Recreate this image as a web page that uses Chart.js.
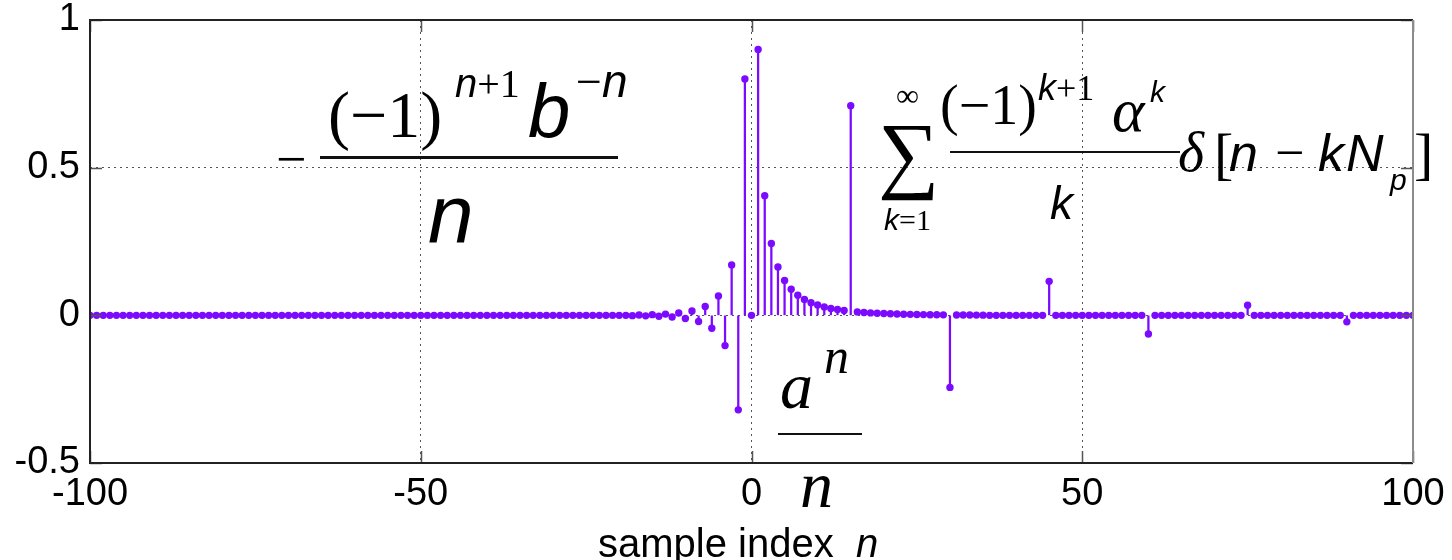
<!DOCTYPE html>
<html>
<head>
<meta charset="utf-8">
<script src="https://cdn.jsdelivr.net/npm/chart.js@4.4.1/dist/chart.umd.min.js"></script>
<style>
  html, body { margin: 0; padding: 0; background: #fff; }
  #wrap { position: relative; width: 1452px; height: 560px; overflow: hidden; }
  #wrap canvas { position: absolute; left: 0; top: 0; }
  .m { position: absolute; white-space: nowrap; line-height: 1; color: #000; }
  .serif { font-family: "Liberation Serif", "Times New Roman", serif; font-style: normal; }
  .sans { font-family: "Liberation Sans", Arial, sans-serif; font-style: normal; }
  .it { font-style: italic; }
  .rule { position: absolute; background: #111; }
</style>
</head>
<body>
<div id="wrap">
  <canvas id="stemChart" width="1452" height="560"></canvas>
  <div id="notes"></div>
</div>
<script>
// sample index runs from -100 to 100, one value per sample
const firstSample = -100;
const sampleValues = [
  0, 0, 0, 0, 0, 0, 0, 0, 0, 0,
  0, 0, 0, 0, 0, 0, 0, 0, 0, 0,
  0, 0, 0, 0, 0, 0, 0, 0, 0, 0,
  0, 0, 0, 0, 0, 0, 0, 0, 0, 0,
  0, 0, 0, 0, 0, 0, 0, 0, 0, 0,
  0, 0, 0, 0, 0, 0, 0, 0, 0, 0,
  0, 0, 0, 0, 0, 0, 0, 0, 0, 0,
  0, 0, 0, 0, 0, 0, 0, 0, 0, 0,
  0, 0, -0.001, 0.0013, -0.0018, 0.0023, -0.0031, 0.0042, -0.0057, 0.0078,
  -0.0107, 0.0149, -0.021, 0.03, -0.0437, 0.0655, -0.1024, 0.1707, -0.32, 0.8,
  0,
  0.9, 0.405, 0.243, 0.164, 0.118, 0.0886, 0.0683, 0.0538, 0.043, 0.0349,
  0.0285, 0.0235, 0.0196, 0.0163, 0.71, 0.0116, 0.0098, 0.0083, 0.0071, 0.0061,
  0.0052, 0.0045, 0.0039, 0.0033, 0.0029, 0.0025, 0.0022, 0.0019, 0.0016, -0.244,
  0.0012, 0.0011, 0.0009, 0.0008, 0.0007, 0, 0, 0, 0, 0,
  0, 0, 0, 0, 0.115, 0, 0, 0, 0, 0,
  0, 0, 0, 0, 0, 0, 0, 0, 0, -0.063,
  0, 0, 0, 0, 0, 0, 0, 0, 0, 0,
  0, 0, 0, 0, 0.034, 0, 0, 0, 0, 0,
  0, 0, 0, 0, 0, 0, 0, 0, 0, -0.022,
  0, 0, 0, 0, 0, 0, 0, 0, 0, 0
];
const xTicks = [-100, -50, 0, 50, 100];
const yTicks = [-0.5, 0, 0.5, 1];

const stemColor = "rgb(124, 10, 255)";
const tickFont = { family: "'Liberation Sans', Arial, sans-serif", size: 38, lineHeight: 1 };

const points = sampleValues.map((v, i) => ({ x: firstSample + i, y: v }));

// MATLAB style box with inward ticks on all four sides
const framePlugin = {
  id: "frame",
  afterDraw(chart) {
    const { ctx, chartArea: a, scales } = chart;
    ctx.save();
    ctx.strokeStyle = "#555";
    ctx.lineWidth = 1.5;
    ctx.beginPath();
    xTicks.forEach((v) => {
      const px = Math.round(scales.x.getPixelForValue(v)) + 0.5;
      ctx.moveTo(px, a.bottom);
      ctx.lineTo(px, a.bottom - 12);
      ctx.moveTo(px, a.top);
      ctx.lineTo(px, a.top + 12);
    });
    yTicks.forEach((v) => {
      const py = Math.round(scales.y.getPixelForValue(v)) + 0.5;
      ctx.moveTo(a.left, py);
      ctx.lineTo(a.left + 12, py);
      ctx.moveTo(a.right, py);
      ctx.lineTo(a.right - 12, py);
    });
    ctx.stroke();

    ctx.lineWidth = 2;
    ctx.strokeStyle = "#222";
    ctx.beginPath();
    ctx.moveTo(a.right, a.top);
    ctx.lineTo(a.left, a.top);
    ctx.lineTo(a.left, a.bottom);
    ctx.lineTo(a.right, a.bottom);
    ctx.stroke();
    ctx.strokeStyle = "#8c8c8c";
    ctx.beginPath();
    ctx.moveTo(a.right, a.top);
    ctx.lineTo(a.right, a.bottom);
    ctx.stroke();
    ctx.restore();
  }
};

new Chart(document.getElementById("stemChart"), {
  type: "bar",
  data: {
    datasets: [
      {
        type: "scatter",
        data: points,
        pointRadius: 3.7,
        pointHoverRadius: 3.7,
        pointBackgroundColor: stemColor,
        pointBorderWidth: 0,
        showLine: false,
        order: 0
      },
      {
        type: "bar",
        data: points,
        backgroundColor: stemColor,
        borderWidth: 0,
        barThickness: 1.6,
        order: 1
      }
    ]
  },
  options: {
    responsive: false,
    devicePixelRatio: 1,
    animation: false,
    layout: { padding: { top: 20, right: 39, left: 0, bottom: 0 } },
    plugins: { legend: { display: false }, tooltip: { enabled: false } },
    scales: {
      x: {
        type: "linear",
        min: -100,
        max: 100,
        offset: false,
        afterBuildTicks: (scale) => { scale.ticks = xTicks.map((v) => ({ value: v })); },
        afterFit: (scale) => { scale.height = 97; },
        ticks: {
          font: tickFont,
          color: "#000",
          padding: 0,
          maxRotation: 0,
          autoSkip: false,
          callback: (v) => String(v)
        },
        grid: {
          offset: false, color: "#555", lineWidth: 1,
          drawTicks: true, tickLength: 13, tickColor: "rgba(0,0,0,0)"
        },
        border: { display: false, dash: [2, 4] }
      },
      y: {
        type: "linear",
        min: -0.5,
        max: 1,
        afterBuildTicks: (scale) => { scale.ticks = yTicks.map((v) => ({ value: v })); },
        afterFit: (scale) => { scale.width = 90; },
        ticks: {
          font: tickFont,
          color: "#000",
          padding: 0,
          callback: (v) => String(v)
        },
        grid: {
          color: "#555", lineWidth: 1,
          drawTicks: true, tickLength: 10, tickColor: "rgba(0,0,0,0)"
        },
        border: { display: false, dash: [2, 4] }
      }
    }
  },
  plugins: [framePlugin]
});

// annotations and axis label as html text laid over the canvas
const notes = document.getElementById("notes");
const put = (html, x, base, size, cls) => {
  const el = document.createElement("span");
  el.className = "m " + cls;
  el.style.fontSize = size + "px";
  el.style.left = x + "px";
  el.style.top = (base - 0.84 * size) + "px";
  el.innerHTML = html;
  notes.appendChild(el);
};
const rule = (x, y, w, h) => {
  const el = document.createElement("div");
  el.className = "rule";
  el.style.left = x + "px";
  el.style.top = y + "px";
  el.style.width = w + "px";
  el.style.height = h + "px";
  notes.appendChild(el);
};

// - (-1)^(n+1) b^(-n) / n
put("&minus;", 276, 177, 54, "serif");
put("(&minus;1)", 328, 137, 66, "serif");
put('<span class="sans it">n</span>+1', 455, 97, 40, "serif");
put("b", 528, 137, 76, "sans it");
put('&minus;<span class="sans it">n</span>', 576, 97, 46, "serif");
rule(320, 156, 298, 3);
put("n", 428, 242, 82, "sans it");

// sum_k (-1)^(k+1) alpha^k / k  delta[n - kNp]
put("&sum;", 878, 182, 86, "serif");
put("&infin;", 896, 106, 32, "serif");
put('<span class="sans it">k</span>=1', 884, 230, 30, "serif");
put("(&minus;1)", 940, 124, 56, "serif");
put('<span class="sans it">k</span>+1', 1038, 100, 36, "serif");
put("&alpha;", 1112, 131, 62, "serif it");
put("k", 1150, 102, 30, "sans it");
rule(950, 151, 230, 2);
put("k", 1050, 219, 46, "sans it");
put("&delta;", 1178, 171, 56, "serif it");
put("[", 1214, 174, 58, "serif");
put("n", 1229, 171, 52, "sans it");
put("&minus;", 1275, 171, 52, "serif");
put("k", 1318, 171, 52, "sans it");
put("N", 1346, 171, 52, "sans it");
put("p", 1390, 190, 30, "sans it");
put("]", 1414, 174, 58, "serif");

// a^n / n
put("a", 780, 408, 66, "serif it");
put("n", 824, 373, 50, "serif it");
rule(778, 433, 84, 2);
put("n", 800, 507, 66, "serif it");

// x axis label
put('sample index&nbsp;&nbsp;<span class="it">n</span>', 598, 557, 40, "sans");
</script>
</body>
</html>
